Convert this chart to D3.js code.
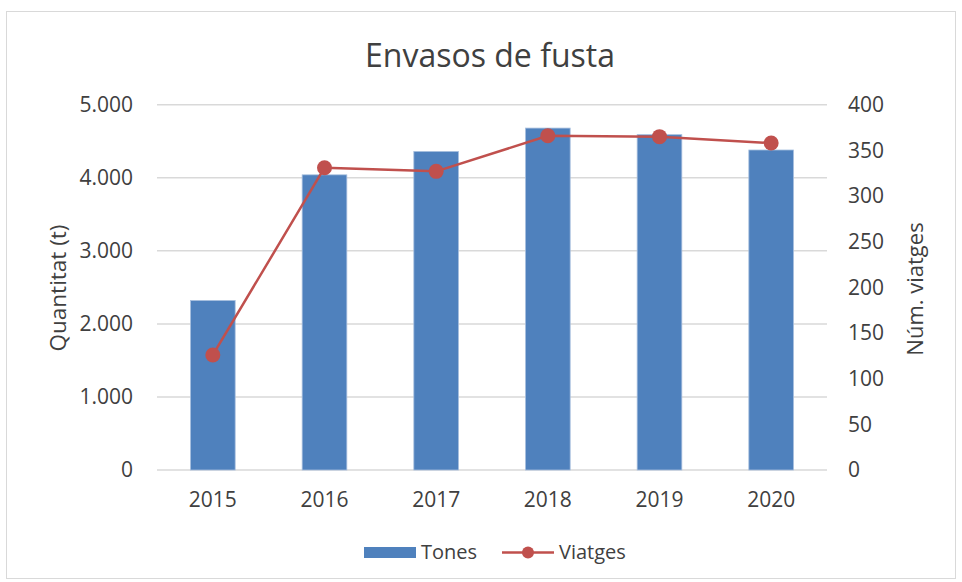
<!DOCTYPE html>
<html>
<head>
<meta charset="utf-8">
<script src="https://cdn.jsdelivr.net/npm/d3@7"></script>
<style>
  html, body { margin: 0; padding: 0; background: #fff; }
  svg { display: block; font-family: "Open Sans", "Noto Sans", sans-serif; }
</style>
</head>
<body>
<svg id="chart" width="962" height="582"></svg>
<script>
// Envasos de fusta: tones (barres, eix esquerre) i viatges (línia, eix dret)
const years = ["2015", "2016", "2017", "2018", "2019", "2020"];
const tones = [2320, 4040, 4360, 4680, 4590, 4380];
const viatges = [126, 331, 327, 366, 365, 358];
const leftTicks = [0, 1000, 2000, 3000, 4000, 5000];
const rightTicks = [0, 50, 100, 150, 200, 250, 300, 350, 400];

const svg = d3.select("#chart");
const textColor = "#404040";
const gridColor = "#d9d9d9";
const barColor = "#4f81bd";
const lineColor = "#c0504d";

const plot = { left: 157, right: 827, top: 104.7, bottom: 470 };

// chart frame
svg.append("rect")
  .attr("x", 6.5).attr("y", 11.5).attr("width", 949).attr("height", 567)
  .attr("fill", "#fff").attr("stroke", gridColor).attr("stroke-width", 1);

const x = d3.scaleBand().domain(years)
  .range([plot.left, plot.right]).paddingInner(0.6).paddingOuter(0.3);
const yL = d3.scaleLinear().domain([0, 5000]).range([plot.bottom, plot.top]);
const yR = d3.scaleLinear().domain([0, 400]).range([plot.bottom, plot.top]);

const fmt = d3.formatLocale({ decimal: ",", thousands: ".", grouping: [3], currency: ["", "€"] }).format(",d");

// gridlines
svg.append("g").selectAll("line").data(leftTicks).join("line")
  .attr("x1", plot.left).attr("x2", plot.right)
  .attr("y1", d => yL(d)).attr("y2", d => yL(d))
  .attr("stroke", gridColor).attr("stroke-width", 1.5);

// left axis labels
const axL = svg.append("g").attr("transform", `translate(${plot.left - 24},0)`)
  .call(d3.axisLeft(yL).tickValues(leftTicks).tickFormat(fmt).tickSize(0).tickPadding(0));
axL.select(".domain").remove();
axL.selectAll("text").attr("fill", textColor).attr("font-size", 21)
  .attr("font-family", "'Open Sans', sans-serif");

// right axis labels
const axR = svg.append("g").attr("transform", `translate(${plot.right + 21},0)`)
  .call(d3.axisRight(yR).tickValues(rightTicks).tickSize(0).tickPadding(0));
axR.select(".domain").remove();
axR.selectAll("text").attr("fill", textColor).attr("font-size", 21)
  .attr("font-family", "'Open Sans', sans-serif");

// category axis labels
const axB = svg.append("g").attr("transform", `translate(0,${plot.bottom + 22})`)
  .call(d3.axisBottom(x).tickSize(0).tickPadding(0));
axB.select(".domain").remove();
axB.selectAll("text").attr("fill", textColor).attr("font-size", 21)
  .attr("font-family", "'Open Sans', sans-serif");

// bars
svg.append("g").selectAll("rect").data(years).join("rect")
  .attr("x", d => x(d))
  .attr("y", (d, i) => yL(tones[i]))
  .attr("width", x.bandwidth())
  .attr("height", (d, i) => yL(0) - yL(tones[i]))
  .attr("fill", barColor)
  .attr("stroke", "#a7bfde").attr("stroke-width", 0.8);

// line with markers
const cx = d => x(d) + x.bandwidth() / 2;
const line = d3.line().x((d, i) => cx(years[i])).y(d => yR(d));
svg.append("path").datum(viatges)
  .attr("d", line).attr("fill", "none")
  .attr("stroke", lineColor).attr("stroke-width", 2.5).attr("stroke-linejoin", "round");
svg.append("g").selectAll("circle").data(viatges).join("circle")
  .attr("cx", (d, i) => cx(years[i])).attr("cy", d => yR(d))
  .attr("r", 7.5).attr("fill", lineColor);

// title
svg.append("text").attr("x", 490).attr("y", 67).attr("text-anchor", "middle")
  .attr("font-size", 32).attr("fill", textColor).text("Envasos de fusta");

// axis titles
svg.append("text").attr("transform", "translate(66,288) rotate(-90)")
  .attr("text-anchor", "middle").attr("font-size", 22.5).attr("fill", textColor)
  .text("Quantitat (t)");
svg.append("text").attr("transform", "translate(923,289) rotate(-90)")
  .attr("text-anchor", "middle").attr("font-size", 22).attr("fill", textColor)
  .text("Núm. viatges");

// legend
const lg = svg.append("g");
lg.append("rect").attr("x", 364).attr("y", 547).attr("width", 52).attr("height", 11)
  .attr("fill", barColor);
lg.append("text").attr("x", 421).attr("y", 559).attr("font-size", 20)
  .attr("fill", textColor).text("Tones");
lg.append("line").attr("x1", 502).attr("x2", 554).attr("y1", 552.5).attr("y2", 552.5)
  .attr("stroke", lineColor).attr("stroke-width", 2.5);
lg.append("circle").attr("cx", 528).attr("cy", 552.5).attr("r", 6).attr("fill", lineColor);
lg.append("text").attr("x", 559).attr("y", 559).attr("font-size", 20)
  .attr("fill", textColor).text("Viatges");
</script>
</body>
</html>
